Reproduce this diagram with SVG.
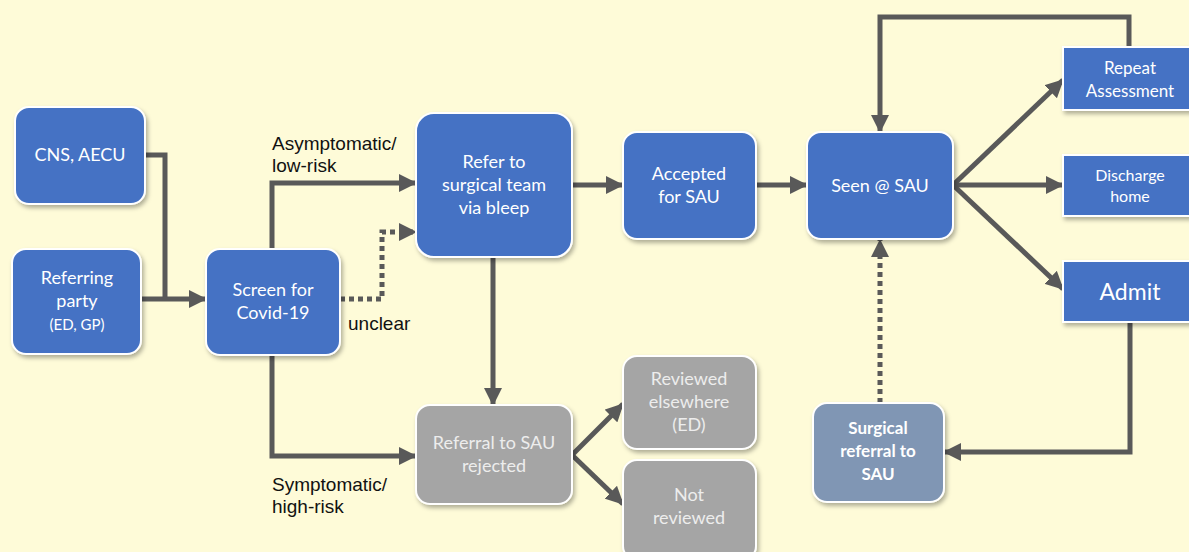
<svg xmlns="http://www.w3.org/2000/svg" width="1189" height="552" viewBox="0 0 1189 552">
<defs>
<style>
.node{fill:#4472C4;stroke:#FFFFFF;stroke-width:2;filter:url(#sh)}
.grey{fill:#A5A5A5;stroke:#FFFFFF;stroke-width:2;filter:url(#sh)}
.slate{fill:#8096B4;stroke:#FFFFFF;stroke-width:2;filter:url(#sh)}
.t{font-family:Lato,"Open Sans",sans-serif;font-size:18px;fill:#FFFFFF;text-anchor:middle}
.tg{font-family:Lato,"Open Sans",sans-serif;font-size:18px;fill:#EDEDED;text-anchor:middle}
.lbl{font-family:"Liberation Sans",Arial,sans-serif;font-size:19px;fill:#111111}
.c{fill:none;stroke:#595959;stroke-width:5}
.d{fill:none;stroke:#595959;stroke-width:5;stroke-dasharray:5 4}
</style>
<filter id="sh" x="-20%" y="-20%" width="140%" height="140%">
<feDropShadow dx="2" dy="3" stdDeviation="2" flood-color="#000000" flood-opacity="0.3"/>
</filter>
<marker id="ah" markerUnits="userSpaceOnUse" markerWidth="18" markerHeight="18" refX="17" refY="9" orient="auto">
<path d="M0,0 L18,9 L0,18 z" fill="#595959"/>
</marker>
</defs>
<rect x="0" y="0" width="1189" height="552" fill="#FEFBD8"/>

<g id="connectors">
<path class="c" d="M145,155 H165 V299"/>
<path class="c" d="M141,299 H206" marker-end="url(#ah)"/>
<path class="c" d="M272,249 V183 H416" marker-end="url(#ah)"/>
<path class="d" d="M340,299 H382 V232 H416" marker-end="url(#ah)"/>
<path class="c" d="M272,355 V456 H416" marker-end="url(#ah)"/>
<path class="c" d="M493,257 V405" marker-end="url(#ah)"/>
<path class="c" d="M572,185 H623" marker-end="url(#ah)"/>
<path class="c" d="M756,185 H807" marker-end="url(#ah)"/>
<path class="c" d="M953,185 L1063,80" marker-end="url(#ah)"/>
<path class="c" d="M953,185 H1063" marker-end="url(#ah)"/>
<path class="c" d="M953,185 L1063,289" marker-end="url(#ah)"/>
<path class="c" d="M1129,47 V17 H880 V132" marker-end="url(#ah)"/>
<path class="c" d="M1130,322 V452 H944" marker-end="url(#ah)"/>
<path class="d" d="M880,403 V240" marker-end="url(#ah)"/>
<path class="c" d="M572,455 L623,404" marker-end="url(#ah)"/>
<path class="c" d="M572,455 L623,504" marker-end="url(#ah)"/>
<text class="lbl" x="272" y="150">Asymptomatic/</text>
<text class="lbl" x="272" y="172">low-risk</text>
<text class="lbl" x="348" y="330">unclear</text>
<text class="lbl" x="272" y="491">Symptomatic/</text>
<text class="lbl" x="272" y="513">high-risk</text>
</g>

<g id="cns">
<rect class="node" x="15" y="107" width="130" height="97" rx="14"/>
<text class="t" x="80" y="161">CNS, AECU</text>
</g>
<g id="referring">
<rect class="node" x="12" y="249" width="129" height="105" rx="14"/>
<text class="t" x="77" y="284">Referring</text>
<text class="t" x="77" y="307">party</text>
<text class="t" x="77" y="330" style="font-size:15px">(ED, GP)</text>
</g>
<g id="screen">
<rect class="node" x="206" y="249" width="134" height="106" rx="14"/>
<text class="t" x="273" y="296">Screen for</text>
<text class="t" x="273" y="319">Covid-19</text>
</g>
<g id="refer">
<rect class="node" x="416" y="113" width="156" height="144" rx="18"/>
<text class="t" x="494" y="168">Refer to</text>
<text class="t" x="494" y="191">surgical team</text>
<text class="t" x="494" y="214">via bleep</text>
</g>
<g id="accepted">
<rect class="node" x="623" y="132" width="133" height="107" rx="14"/>
<text class="t" x="689" y="180">Accepted</text>
<text class="t" x="689" y="203">for SAU</text>
</g>
<g id="seen">
<rect class="node" x="807" y="132" width="146" height="107" rx="14"/>
<text class="t" x="880" y="192">Seen @ SAU</text>
</g>
<g id="repeat">
<rect class="node" x="1063" y="47" width="132" height="63"/>
<text class="t" x="1130" y="74" style="font-size:17px">Repeat</text>
<text class="t" x="1130" y="97" style="font-size:17px">Assessment</text>
</g>
<g id="discharge">
<rect class="node" x="1063" y="155" width="132" height="61"/>
<text class="t" x="1130" y="181" style="font-size:16px">Discharge</text>
<text class="t" x="1130" y="202" style="font-size:16px">home</text>
</g>
<g id="admit">
<rect class="node" x="1063" y="261" width="132" height="61"/>
<text class="t" x="1130" y="300" style="font-size:23px">Admit</text>
</g>
<g id="surgical">
<rect class="slate" x="813" y="403" width="131" height="99" rx="14"/>
<text class="t" x="878" y="434" style="font-weight:bold;font-size:17px">Surgical</text>
<text class="t" x="878" y="457" style="font-weight:bold;font-size:17px">referral to</text>
<text class="t" x="878" y="480" style="font-weight:bold;font-size:17px">SAU</text>
</g>
<g id="rejected">
<rect class="grey" x="416" y="405" width="156" height="99" rx="14"/>
<text class="tg" x="494" y="449">Referral to SAU</text>
<text class="tg" x="494" y="472">rejected</text>
</g>
<g id="reviewed">
<rect class="grey" x="623" y="356" width="133" height="93" rx="14"/>
<text class="tg" x="689" y="385">Reviewed</text>
<text class="tg" x="689" y="408">elsewhere</text>
<text class="tg" x="689" y="431">(ED)</text>
</g>
<g id="notreviewed">
<rect class="grey" x="623" y="460" width="133" height="100" rx="14"/>
<text class="tg" x="689" y="501">Not</text>
<text class="tg" x="689" y="524">reviewed</text>
</g>
</svg>
